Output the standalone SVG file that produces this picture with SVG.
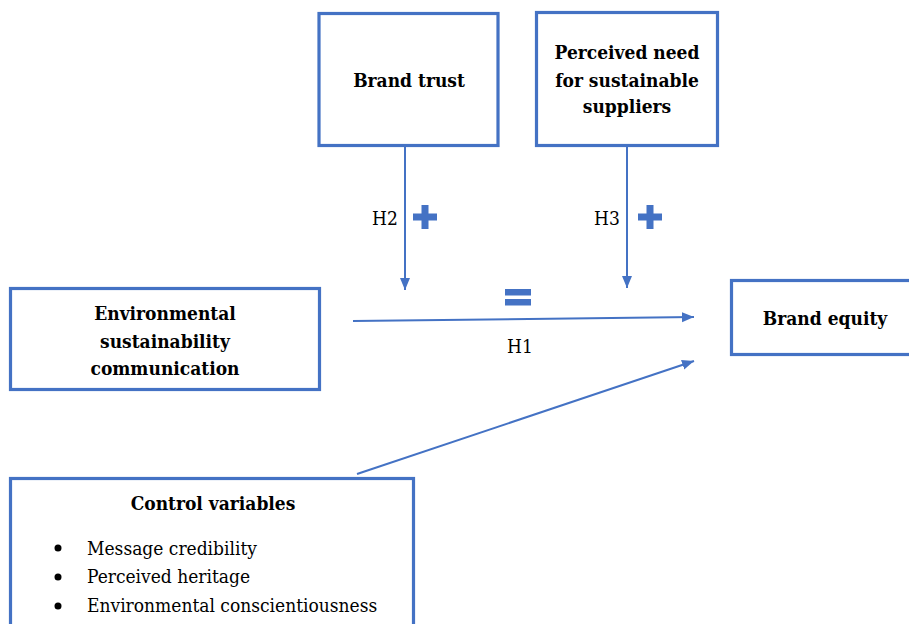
<svg xmlns="http://www.w3.org/2000/svg" width="909" height="624" viewBox="0 0 909 624">
<style>
.box{fill:#fff;stroke:#4472C4;stroke-width:3.2}
.b{font-family:'DejaVu Serif Condensed','DejaVu Serif',serif;font-stretch:condensed;font-weight:700;font-size:19px;fill:#000;text-anchor:middle}
.r{font-family:'DejaVu Serif Condensed','DejaVu Serif',serif;font-stretch:condensed;font-size:19px;fill:#000}
.ln{stroke:#4472C4;stroke-width:2;fill:none}
.sym{fill:#4472C4}
</style>
<defs>
<marker id="ah" markerUnits="userSpaceOnUse" markerWidth="14" markerHeight="12" refX="12" refY="5" orient="auto" viewBox="0 0 14 10">
<path d="M0,0 L12,5 L0,10 Z" fill="#4472C4"/>
</marker>
</defs>
<rect width="909" height="624" fill="#fff"/>
<g id="brand-trust">
<rect class="box" x="319" y="13.5" width="179" height="132"/>
<text class="b" x="409" y="87">Brand trust</text>
</g>
<g id="perceived-need">
<rect class="box" x="536.5" y="12.5" width="181" height="133"/>
<text class="b" x="627" y="59">Perceived need</text>
<text class="b" x="627" y="87">for sustainable</text>
<text class="b" x="627" y="113">suppliers</text>
</g>
<g id="env-comm">
<rect class="box" x="10.5" y="288.5" width="309" height="101"/>
<text class="b" x="165" y="320">Environmental</text>
<text class="b" x="165" y="347.5">sustainability</text>
<text class="b" x="165" y="375">communication</text>
</g>
<g id="brand-equity">
<rect class="box" x="731.5" y="280.5" width="200" height="74"/>
<text class="b" x="825" y="325">Brand equity</text>
</g>
<g id="control-variables">
<rect class="box" x="10.5" y="478.5" width="403" height="200"/>
<text class="b" x="213" y="510">Control variables</text>
<circle cx="58" cy="548" r="3.5" fill="#000"/>
<circle cx="58" cy="577" r="3.5" fill="#000"/>
<circle cx="58" cy="606" r="3.5" fill="#000"/>
<text class="r" x="87" y="555">Message credibility</text>
<text class="r" x="87" y="583">Perceived heritage</text>
<text class="r" x="87" y="612">Environmental conscientiousness</text>
</g>
<g id="connectors">
<line class="ln" x1="405" y1="147" x2="405" y2="290" marker-end="url(#ah)"/>
<line class="ln" x1="627" y1="147" x2="627" y2="288" marker-end="url(#ah)"/>
<line class="ln" x1="353" y1="321" x2="694" y2="317" marker-end="url(#ah)"/>
<line class="ln" x1="357" y1="474" x2="694" y2="361" marker-end="url(#ah)"/>
</g>
<g id="labels">
<text class="r" x="372" y="225">H2</text>
<text class="r" x="594" y="225">H3</text>
<text class="r" x="507" y="353">H1</text>
<path class="sym" d="M421.5,205 h7 v8.5 h8.5 v7 h-8.5 v8.5 h-7 v-8.5 h-8.5 v-7 h8.5 Z"/>
<path class="sym" d="M646.5,205 h7 v8.5 h8.5 v7 h-8.5 v8.5 h-7 v-8.5 h-8.5 v-7 h8.5 Z"/>
<rect class="sym" x="505" y="289" width="26" height="6.5"/>
<rect class="sym" x="505" y="299" width="26" height="6.5"/>
</g>
</svg>
